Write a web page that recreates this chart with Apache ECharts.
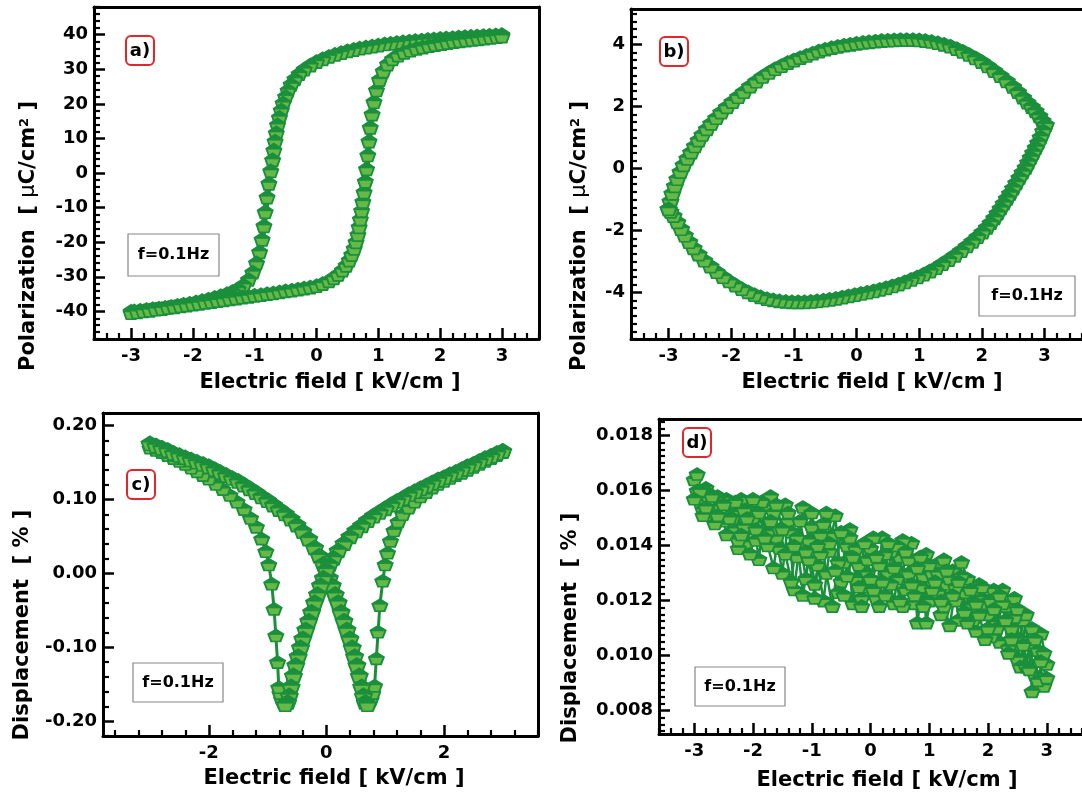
<!DOCTYPE html>
<html>
<head>
<meta charset="utf-8">
<script src="https://cdn.jsdelivr.net/npm/echarts@6/dist/echarts.min.js"></script>
<style>
html,body{margin:0;padding:0;background:#fff;}
#chart{width:1082px;height:793px;}
</style>
</head>
<body>
<div id="chart"></div>
<script>
// ---------------- DATA ----------------
// (a) P-E hysteresis loop, [E kV/cm, P uC/cm2]
const aFieldDown = [[3.0,40.0],[2.9,39.9],[2.8,39.8],[2.7,39.7],[2.6,39.6],[2.5,39.5],[2.4,39.4],[2.3,39.3],[2.2,39.1],[2.1,39.0],[2.0,38.9],[1.9,38.7],[1.8,38.6],[1.7,38.4],[1.6,38.3],[1.5,38.1],[1.4,37.9],[1.3,37.7],[1.2,37.5],[1.1,37.3],[1.0,37.0],[0.9,36.7],[0.8,36.4],[0.7,36.1],[0.6,35.7],[0.5,35.3],[0.4,34.8],[0.3,34.3],[0.2,33.7],[0.1,33.0],[0.0,32.2],[-0.1,31.2],[-0.2,30.0],[-0.28,28.7],[-0.35,27.2],[-0.41,25.6],[-0.46,23.9],[-0.5,22.1],[-0.54,20.2],[-0.57,18.2],[-0.6,16.1],[-0.63,13.9],[-0.65,11.6],[-0.67,9.2],[-0.69,6.6],[-0.71,3.8],[-0.74,0.6],[-0.77,-3.0],[-0.8,-7.0],[-0.83,-11.2],[-0.85,-15.3],[-0.88,-19.2],[-0.92,-22.8],[-0.97,-26.0],[-1.03,-28.7],[-1.1,-30.8],[-1.18,-32.4],[-1.27,-33.5],[-1.36,-34.3],[-1.45,-34.9],[-1.55,-35.5],[-1.65,-36.0],[-1.75,-36.5],[-1.85,-36.9],[-1.95,-37.3],[-2.05,-37.7],[-2.15,-38.0],[-2.25,-38.3],[-2.35,-38.6],[-2.45,-38.9],[-2.55,-39.1],[-2.65,-39.3],[-2.75,-39.5],[-2.85,-39.7],[-2.95,-39.9],[-3.0,-40.0]];
const aFieldUp = [[-3.0,-40.4],[-2.9,-40.2],[-2.8,-39.9],[-2.7,-39.7],[-2.6,-39.4],[-2.5,-39.2],[-2.4,-38.9],[-2.3,-38.7],[-2.2,-38.4],[-2.1,-38.2],[-2.0,-37.9],[-1.9,-37.7],[-1.8,-37.4],[-1.7,-37.2],[-1.6,-36.9],[-1.5,-36.7],[-1.4,-36.4],[-1.3,-36.2],[-1.2,-35.9],[-1.1,-35.7],[-1.0,-35.4],[-0.9,-35.2],[-0.8,-34.9],[-0.7,-34.7],[-0.6,-34.4],[-0.5,-34.1],[-0.4,-33.9],[-0.3,-33.6],[-0.2,-33.3],[-0.1,-33.0],[0.0,-32.6],[0.1,-32.0],[0.2,-31.2],[0.28,-30.3],[0.35,-29.3],[0.42,-28.1],[0.48,-26.7],[0.53,-25.2],[0.57,-23.6],[0.61,-21.8],[0.64,-19.9],[0.67,-17.8],[0.69,-15.6],[0.71,-13.3],[0.73,-10.9],[0.75,-8.3],[0.77,-5.5],[0.79,-2.4],[0.81,1.2],[0.83,5.2],[0.85,9.2],[0.87,13.2],[0.9,17.0],[0.93,20.6],[0.97,24.0],[1.02,27.0],[1.08,29.5],[1.15,31.5],[1.23,33.0],[1.32,34.1],[1.42,34.9],[1.52,35.5],[1.62,36.0],[1.72,36.4],[1.82,36.8],[1.92,37.1],[2.02,37.4],[2.12,37.7],[2.22,38.0],[2.32,38.2],[2.42,38.4],[2.52,38.6],[2.62,38.8],[2.72,39.0],[2.82,39.2],[2.92,39.4],[3.0,39.6]];

// (b) lossy lens-shaped loop
const bUpper = [[-3.0,-1.3],[-2.97,-1.05],[-2.94,-0.8],[-2.9,-0.56],[-2.86,-0.33],[-2.81,-0.1],[-2.76,0.12],[-2.7,0.33],[-2.64,0.53],[-2.58,0.73],[-2.52,0.92],[-2.46,1.1],[-2.39,1.28],[-2.32,1.46],[-2.24,1.64],[-2.16,1.82],[-2.07,1.99],[-1.98,2.16],[-1.89,2.32],[-1.8,2.48],[-1.7,2.66],[-1.6,2.82],[-1.5,2.97],[-1.4,3.1],[-1.3,3.22],[-1.2,3.32],[-1.1,3.42],[-1.0,3.5],[-0.9,3.58],[-0.8,3.65],[-0.7,3.72],[-0.6,3.79],[-0.5,3.85],[-0.4,3.9],[-0.3,3.94],[-0.2,3.98],[-0.1,4.01],[0.0,4.04],[0.1,4.07],[0.2,4.09],[0.3,4.11],[0.4,4.13],[0.5,4.14],[0.6,4.15],[0.7,4.16],[0.8,4.16],[0.9,4.16],[1.0,4.15],[1.1,4.13],[1.2,4.1],[1.3,4.06],[1.4,4.01],[1.5,3.95],[1.6,3.87],[1.7,3.78],[1.8,3.68],[1.9,3.57],[2.0,3.45],[2.1,3.31],[2.2,3.16],[2.3,3.0],[2.4,2.83],[2.5,2.65],[2.58,2.48],[2.66,2.3],[2.73,2.14],[2.8,2.0],[2.86,1.86],[2.92,1.7],[2.97,1.55],[3.02,1.42]];
const bLower = [[3.02,1.42],[2.98,1.22],[2.94,1.02],[2.9,0.84],[2.86,0.68],[2.82,0.52],[2.78,0.36],[2.74,0.2],[2.7,0.04],[2.65,-0.12],[2.6,-0.29],[2.55,-0.46],[2.5,-0.63],[2.45,-0.8],[2.4,-0.96],[2.35,-1.12],[2.3,-1.28],[2.25,-1.44],[2.2,-1.59],[2.14,-1.75],[2.08,-1.9],[2.01,-2.05],[1.93,-2.2],[1.85,-2.35],[1.76,-2.5],[1.67,-2.65],[1.57,-2.8],[1.47,-2.94],[1.37,-3.07],[1.27,-3.2],[1.17,-3.31],[1.07,-3.41],[0.97,-3.5],[0.87,-3.58],[0.77,-3.66],[0.67,-3.73],[0.57,-3.79],[0.47,-3.85],[0.37,-3.9],[0.27,-3.95],[0.17,-3.99],[0.07,-4.03],[-0.03,-4.07],[-0.13,-4.11],[-0.23,-4.15],[-0.33,-4.19],[-0.43,-4.22],[-0.53,-4.25],[-0.63,-4.27],[-0.73,-4.29],[-0.83,-4.3],[-0.93,-4.3],[-1.03,-4.3],[-1.13,-4.29],[-1.23,-4.27],[-1.33,-4.24],[-1.43,-4.2],[-1.53,-4.14],[-1.63,-4.07],[-1.73,-3.98],[-1.83,-3.88],[-1.93,-3.76],[-2.03,-3.63],[-2.13,-3.49],[-2.23,-3.33],[-2.33,-3.15],[-2.43,-2.96],[-2.52,-2.76],[-2.6,-2.56],[-2.67,-2.36],[-2.74,-2.15],[-2.8,-1.94],[-2.86,-1.72],[-2.92,-1.52],[-2.97,-1.38],[-3.0,-1.3]];

// (c) butterfly strain loop, [E, S %]
const cUpFall = [[-3.0,0.176],[-2.9,0.173],[-2.8,0.170],[-2.7,0.167],[-2.6,0.163],[-2.5,0.160],[-2.4,0.157],[-2.3,0.154],[-2.2,0.151],[-2.1,0.148],[-2.0,0.145],[-1.9,0.141],[-1.8,0.137],[-1.7,0.133],[-1.6,0.129],[-1.5,0.125],[-1.4,0.120],[-1.3,0.115],[-1.2,0.110],[-1.1,0.104],[-1.0,0.099],[-0.9,0.093],[-0.8,0.087],[-0.7,0.081],[-0.6,0.074],[-0.5,0.066],[-0.4,0.057],[-0.3,0.047],[-0.2,0.035],[-0.12,0.024],[-0.05,0.013],[0.0,0.005],[0.05,-0.006],[0.1,-0.016],[0.15,-0.028],[0.2,-0.039],[0.25,-0.052],[0.3,-0.064],[0.35,-0.076],[0.4,-0.088],[0.44,-0.100],[0.48,-0.112],[0.52,-0.124],[0.56,-0.138],[0.6,-0.153],[0.63,-0.165],[0.66,-0.174],[0.7,-0.177]];
const cUpRise = [[0.7,-0.177],[0.73,-0.175],[0.76,-0.170],[0.79,-0.162],[0.82,-0.152],[0.85,-0.115],[0.88,-0.079],[0.91,-0.043],[0.96,-0.010],[1.0,0.012],[1.04,0.028],[1.09,0.044],[1.15,0.058],[1.22,0.070],[1.3,0.080],[1.4,0.089],[1.5,0.097],[1.6,0.104],[1.7,0.110],[1.8,0.116],[1.9,0.121],[2.0,0.125],[2.1,0.129],[2.2,0.133],[2.3,0.136],[2.4,0.140],[2.5,0.144],[2.6,0.148],[2.7,0.152],[2.8,0.156],[2.9,0.160],[3.0,0.164]];
const cDownFall = [[3.0,0.166],[2.9,0.163],[2.8,0.159],[2.7,0.156],[2.6,0.152],[2.5,0.148],[2.4,0.145],[2.3,0.141],[2.2,0.137],[2.1,0.134],[2.0,0.130],[1.9,0.127],[1.8,0.123],[1.7,0.119],[1.6,0.115],[1.5,0.111],[1.4,0.107],[1.3,0.102],[1.2,0.098],[1.1,0.093],[1.0,0.088],[0.9,0.083],[0.8,0.078],[0.7,0.072],[0.6,0.065],[0.5,0.058],[0.4,0.050],[0.3,0.041],[0.2,0.031],[0.12,0.021],[0.05,0.012],[0.0,0.005],[-0.05,-0.006],[-0.1,-0.016],[-0.15,-0.028],[-0.2,-0.039],[-0.25,-0.052],[-0.3,-0.064],[-0.35,-0.076],[-0.4,-0.088],[-0.44,-0.100],[-0.48,-0.112],[-0.52,-0.124],[-0.56,-0.138],[-0.6,-0.153],[-0.63,-0.165],[-0.66,-0.174],[-0.7,-0.177]];
const cDownRise = [[-0.7,-0.177],[-0.73,-0.175],[-0.76,-0.170],[-0.79,-0.162],[-0.81,-0.154],[-0.83,-0.120],[-0.86,-0.084],[-0.89,-0.048],[-0.93,-0.014],[-0.98,0.012],[-1.03,0.030],[-1.1,0.047],[-1.19,0.063],[-1.29,0.075],[-1.4,0.087],[-1.52,0.097],[-1.64,0.106],[-1.76,0.114],[-1.88,0.121],[-2.0,0.128],[-2.1,0.133],[-2.2,0.138],[-2.3,0.143],[-2.4,0.148],[-2.5,0.152],[-2.6,0.156],[-2.7,0.160],[-2.8,0.164],[-2.9,0.167],[-3.0,0.170]];

// (d) noisy displacement, two field cycles, [E, S %]
const dFieldUp = [[-3.0,0.0164],[-2.9,0.0156],[-2.8,0.0161],[-2.7,0.0152],[-2.6,0.0158],[-2.5,0.0149],[-2.4,0.0155],[-2.3,0.0146],[-2.2,0.0157],[-2.1,0.0141],[-2.0,0.0150],[-1.9,0.0135],[-1.8,0.0154],[-1.7,0.0158],[-1.6,0.0143],[-1.5,0.0130],[-1.4,0.0149],[-1.3,0.0124],[-1.2,0.0141],[-1.1,0.0128],[-1.0,0.0147],[-0.9,0.0133],[-0.8,0.0120],[-0.7,0.0138],[-0.6,0.0151],[-0.5,0.0127],[-0.4,0.0140],[-0.3,0.0119],[-0.2,0.0133],[-0.1,0.0125],[0.0,0.0139],[0.1,0.0121],[0.2,0.0143],[0.3,0.0130],[0.4,0.0119],[0.5,0.0136],[0.6,0.0124],[0.7,0.0141],[0.8,0.0112],[0.9,0.0129],[1.0,0.0120],[1.1,0.0133],[1.2,0.0115],[1.3,0.0126],[1.4,0.0131],[1.5,0.0113],[1.6,0.0123],[1.7,0.0118],[1.8,0.0109],[1.9,0.0121],[2.0,0.0115],[2.1,0.0124],[2.2,0.0105],[2.3,0.0118],[2.4,0.0110],[2.5,0.0099],[2.6,0.0113],[2.7,0.0104],[2.8,0.0093],[2.9,0.0108],[3.0,0.0097]];
const dFieldDown = [[2.95,0.0089],[2.85,0.0102],[2.75,0.0087],[2.65,0.0115],[2.55,0.0096],[2.45,0.0121],[2.35,0.0103],[2.25,0.0124],[2.15,0.0112],[2.05,0.0107],[1.95,0.0119],[1.85,0.0126],[1.75,0.0113],[1.65,0.0128],[1.55,0.0134],[1.45,0.0120],[1.35,0.0128],[1.25,0.0135],[1.15,0.0123],[1.05,0.0130],[0.95,0.0137],[0.85,0.0125],[0.75,0.0119],[0.65,0.0135],[0.55,0.0142],[0.45,0.0128],[0.35,0.0138],[0.25,0.0122],[0.15,0.0133],[0.05,0.0143],[-0.05,0.0130],[-0.15,0.0121],[-0.25,0.0139],[-0.35,0.0146],[-0.45,0.0134],[-0.55,0.0123],[-0.65,0.0144],[-0.75,0.0152],[-0.85,0.0137],[-0.95,0.0126],[-1.05,0.0142],[-1.15,0.0154],[-1.25,0.0136],[-1.35,0.0145],[-1.45,0.0155],[-1.55,0.0139],[-1.65,0.0152],[-1.75,0.0145],[-1.85,0.0156],[-1.95,0.0142],[-2.05,0.0153],[-2.15,0.0147],[-2.25,0.0139],[-2.35,0.0152],[-2.45,0.0157],[-2.55,0.0150],[-2.65,0.0155],[-2.75,0.0159],[-2.85,0.0153],[-2.95,0.0166]];
const dFieldUp2 = [[-2.95,0.0160],[-2.85,0.0151],[-2.75,0.0157],[-2.65,0.0148],[-2.55,0.0154],[-2.45,0.0144],[-2.35,0.0150],[-2.25,0.0142],[-2.15,0.0153],[-2.05,0.0137],[-1.95,0.0146],[-1.85,0.0156],[-1.75,0.0140],[-1.65,0.0132],[-1.55,0.0146],[-1.45,0.0137],[-1.35,0.0127],[-1.25,0.0143],[-1.15,0.0122],[-1.05,0.0135],[-0.95,0.0121],[-0.85,0.0144],[-0.75,0.0130],[-0.65,0.0118],[-0.55,0.0134],[-0.45,0.0122],[-0.35,0.0143],[-0.25,0.0128],[-0.15,0.0118],[-0.05,0.0135],[0.05,0.0124],[0.15,0.0118],[0.25,0.0137],[0.35,0.0126],[0.45,0.0140],[0.55,0.0118],[0.65,0.0130],[0.75,0.0122],[0.85,0.0136],[0.95,0.0112],[1.05,0.0124],[1.15,0.0130],[1.25,0.0118],[1.35,0.0111],[1.45,0.0125],[1.55,0.0129],[1.65,0.0112],[1.75,0.0124],[1.85,0.0115],[1.95,0.0106],[2.05,0.0120],[2.15,0.0110],[2.25,0.0119],[2.35,0.0101],[2.45,0.0114],[2.55,0.0106],[2.65,0.0096],[2.75,0.0110],[2.85,0.0091],[2.95,0.0101]];
const dFieldDown2 = [[3.0,0.0092],[2.9,0.0098],[2.8,0.0106],[2.7,0.0095],[2.6,0.0104],[2.5,0.0117],[2.4,0.0106],[2.3,0.0113],[2.2,0.0122],[2.1,0.0117],[2.0,0.0110],[1.9,0.0125],[1.8,0.0119],[1.7,0.0124],[1.6,0.0116],[1.5,0.0127],[1.4,0.0122],[1.3,0.0131],[1.2,0.0120],[1.1,0.0127],[1.0,0.0133],[0.9,0.0118],[0.8,0.0132],[0.7,0.0126],[0.6,0.0138],[0.5,0.0120],[0.4,0.0132],[0.3,0.0141],[0.2,0.0127],[0.1,0.0136],[0.0,0.0128],[-0.1,0.0141],[-0.2,0.0125],[-0.3,0.0136],[-0.4,0.0129],[-0.5,0.0145],[-0.6,0.0131],[-0.7,0.0141],[-0.8,0.0148],[-0.9,0.0140],[-1.0,0.0152],[-1.1,0.0138],[-1.2,0.0149],[-1.3,0.0140],[-1.4,0.0152],[-1.5,0.0146],[-1.6,0.0155],[-1.7,0.0149],[-1.8,0.0143],[-1.9,0.0152],[-2.0,0.0157],[-2.1,0.0150],[-2.2,0.0144],[-2.3,0.0156],[-2.4,0.0150],[-2.5,0.0155],[-2.6,0.0151],[-2.7,0.0158],[-2.8,0.0154],[-2.9,0.0160],[-3.0,0.0157]];

// tick labels
const aXTicks = [-3,-2,-1,0,1,2,3];
const aYTicks = [-40,-30,-20,-10,0,10,20,30,40];
const bXTicks = [-3,-2,-1,0,1,2,3];
const bYTicks = [-4,-2,0,2,4];
const cXTicks = [-2,0,2];
const cYTicks = [-0.2,-0.1,0,0.1,0.2];
const dXTicks = [-3,-2,-1,0,1,2,3];
const dYTicks = [0.008,0.010,0.012,0.014,0.016,0.018];

// texts
const xTitle = 'Electric field [ kV/cm ]';
const polTitle = 'Polarization  [ {mu|μ}C/cm{sup|2} ]';
const dispTitle = 'Displacement  [ % ]';
const freqText = 'f=0.1Hz';
const panelTags = ['a)','b)','c)','d)'];

// ---------------- STYLE / LAYOUT ----------------
const FONT = 'DejaVu Sans';
const DARK = '#1a8f3c';
const LIGHT = '#66b946';
const PENT = 'path://M0,-10L9.51,-3.09L5.88,8.09L-5.88,8.09L-9.51,-3.09Z';
const FILL = {type: 'linear', x: 0, y: 0, x2: 0, y2: 1, colorStops: [
  {offset: 0, color: DARK}, {offset: 0.42, color: DARK}, {offset: 0.5, color: LIGHT}, {offset: 1, color: LIGHT}]};

function minorTicks(min, max, step, majors) {
  const out = [];
  const n0 = Math.ceil(min / step - 1e-9), n1 = Math.floor(max / step + 1e-9);
  for (let k = n0; k <= n1; k++) {
    const v = +(k * step).toFixed(8);
    if (!majors.some(m => Math.abs(m - v) < step / 10)) out.push(v);
  }
  return out;
}

const panels = [
  {grid:{left:94,top:7,width:445,height:332}, x:[-3.6,3.6], y:[-48,48], xMaj:aXTicks, yMaj:aYTicks, xStep:0.2, yStep:2, xDec:0, yDec:0, rightBorder:true},
  {grid:{left:631,top:9,width:454,height:330}, x:[-3.6,3.6], y:[-5.5,5.15], xMaj:bXTicks, yMaj:bYTicks, xStep:0.2, yStep:0.25, xDec:0, yDec:0, rightBorder:false},
  {grid:{left:103,top:413,width:435,height:323}, x:[-3.8,3.6], y:[-0.22,0.217], xMaj:cXTicks, yMaj:cYTicks, xStep:0.4, yStep:0.02, xDec:0, yDec:2, rightBorder:true},
  {grid:{left:659,top:419,width:430,height:315}, x:[-3.6,3.6], y:[0.00715,0.0186], xMaj:dXTicks, yMaj:dYTicks, xStep:0.2, yStep:0.00025, xDec:0, yDec:3, rightBorder:false}
];

const labelStyle = {fontFamily: FONT, fontWeight: 'bold', fontSize: 18, color: '#000'};
const frameLine = {show: true, onZero: false, lineStyle: {color: '#000', width: 3}};
const noLine = {show: false, onZero: false};
const grids = [], xAxes = [], yAxes = [];
panels.forEach((p, i) => {
  grids.push(Object.assign({show: false}, p.grid));
  const common = {gridIndex: i, type: 'value', splitLine: {show: false}};
  xAxes.push(Object.assign({}, common, {
    min: p.x[0], max: p.x[1], position: 'bottom', axisLine: frameLine,
    axisTick: {show: true, inside: true, length: 11, lineStyle: {color: '#000', width: 2.5}, customValues: p.xMaj},
    axisLabel: Object.assign({customValues: p.xMaj, margin: 8, formatter: v => Number(v).toFixed(p.xDec)}, labelStyle)
  }));
  xAxes.push(Object.assign({}, common, {
    min: p.x[0], max: p.x[1], position: 'bottom', axisLine: noLine,
    axisTick: {show: true, inside: true, length: 6, lineStyle: {color: '#000', width: 2.2}, customValues: minorTicks(p.x[0], p.x[1], p.xStep, p.xMaj)},
    axisLabel: {show: false}
  }));
  xAxes.push(Object.assign({}, common, {
    min: p.x[0], max: p.x[1], position: 'top', axisLine: frameLine,
    axisTick: {show: false}, axisLabel: {show: false}
  }));
  yAxes.push(Object.assign({}, common, {
    min: p.y[0], max: p.y[1], position: 'left', axisLine: frameLine,
    axisTick: {show: true, inside: true, length: 11, lineStyle: {color: '#000', width: 2.5}, customValues: p.yMaj},
    axisLabel: Object.assign({customValues: p.yMaj, margin: 6, formatter: v => Number(v).toFixed(p.yDec)}, labelStyle)
  }));
  yAxes.push(Object.assign({}, common, {
    min: p.y[0], max: p.y[1], position: 'left', axisLine: noLine,
    axisTick: {show: true, inside: true, length: 6, lineStyle: {color: '#000', width: 2.2}, customValues: minorTicks(p.y[0], p.y[1], p.yStep, p.yMaj)},
    axisLabel: {show: false}
  }));
  yAxes.push(Object.assign({}, common, {
    min: p.y[0], max: p.y[1], position: 'right', axisLine: p.rightBorder ? frameLine : noLine,
    axisTick: {show: false}, axisLabel: {show: false}
  }));
});

function loopSeries(data, gi, size, lw, bw) {
  return {
    type: 'line', xAxisIndex: 3 * gi, yAxisIndex: 3 * gi, data: data,
    symbol: PENT, symbolSize: size, showSymbol: true, clip: false, silent: true,
    lineStyle: {color: DARK, width: lw},
    itemStyle: {color: FILL, borderColor: DARK, borderWidth: bw},
    emphasis: {disabled: true}
  };
}

const series = [
  loopSeries(aFieldDown, 0, [15, 13], 6, 1.8),
  loopSeries(aFieldUp, 0, [15, 13], 6, 1.8),
  loopSeries(bUpper, 1, [16, 13], 10, 1.8),
  loopSeries(bLower, 1, [16, 13], 10, 1.8),
  loopSeries(cUpRise, 2, [15, 12], 3, 1.8),
  loopSeries(cDownRise, 2, [15, 12], 3, 1.8),
  loopSeries(cUpFall, 2, [17, 14], 12, 1.8),
  loopSeries(cDownFall, 2, [17, 14], 12, 1.8),
  loopSeries(dFieldUp, 3, [15, 12], 2.5, 1.8),
  loopSeries(dFieldDown, 3, [15, 12], 2.5, 1.8),
  loopSeries(dFieldUp2, 3, [15, 12], 2.5, 1.8),
  loopSeries(dFieldDown2, 3, [15, 12], 2.5, 1.8)
];

const titleStyle = {fontFamily: FONT, fontWeight: 'bold', fontSize: 21, fill: '#000', align: 'center', verticalAlign: 'middle',
  rich: {mu: {fontFamily: FONT, fontWeight: 'normal', fontSize: 21, fill: '#000'},
         sup: {fontFamily: FONT, fontWeight: 'bold', fontSize: 13, fill: '#000', verticalAlign: 'top'}}};
function title(text, x, y, vertical) {
  return {type: 'text', x: x, y: y, rotation: vertical ? Math.PI / 2 : 0, z: 10,
          style: Object.assign({}, titleStyle, {text: text})};
}
function tag(text, cx, cy) {
  return {type: 'group', z: 10, children: [
    {type: 'rect', shape: {x: cx - 14, y: cy - 14, width: 28, height: 29, r: 5}, style: {fill: '#fff', stroke: '#e3262c', lineWidth: 2}},
    {type: 'text', x: cx, y: cy + 1, style: {text: text, fontFamily: FONT, fontWeight: 'bold', fontSize: 18, fill: '#000', align: 'center', verticalAlign: 'middle'}}
  ]};
}
function freq(cx, cy, w, h) {
  return {type: 'group', z: 10, children: [
    {type: 'rect', shape: {x: cx - w / 2, y: cy - h / 2, width: w, height: h}, style: {fill: '#fff', stroke: '#888', lineWidth: 1.2}},
    {type: 'text', x: cx, y: cy, style: {text: freqText, fontFamily: FONT, fontWeight: 'bold', fontSize: 16, fill: '#000', align: 'center', verticalAlign: 'middle'}}
  ]};
}

const graphic = [
  title(xTitle, 330, 383, false), title(polTitle, 29, 236, true),
  title(xTitle, 872, 383, false), title(polTitle, 580, 236, true),
  title(xTitle, 334, 779, false), title(dispTitle, 23, 625, true),
  title(xTitle, 887, 781, false), title(dispTitle, 571, 628, true),
  tag(panelTags[0], 140, 50), tag(panelTags[1], 674, 51), tag(panelTags[2], 141, 484), tag(panelTags[3], 697, 442),
  freq(173.5, 255, 91, 42), freq(1027, 296, 96, 40), freq(178, 682.5, 90, 39), freq(740, 686.5, 90, 39)
];

const chart = echarts.init(document.getElementById('chart'), null, {renderer: 'canvas'});
chart.setOption({
  animation: false,
  backgroundColor: '#fff',
  grid: grids, xAxis: xAxes, yAxis: yAxes,
  series: series,
  graphic: graphic
});
</script>
</body>
</html>
